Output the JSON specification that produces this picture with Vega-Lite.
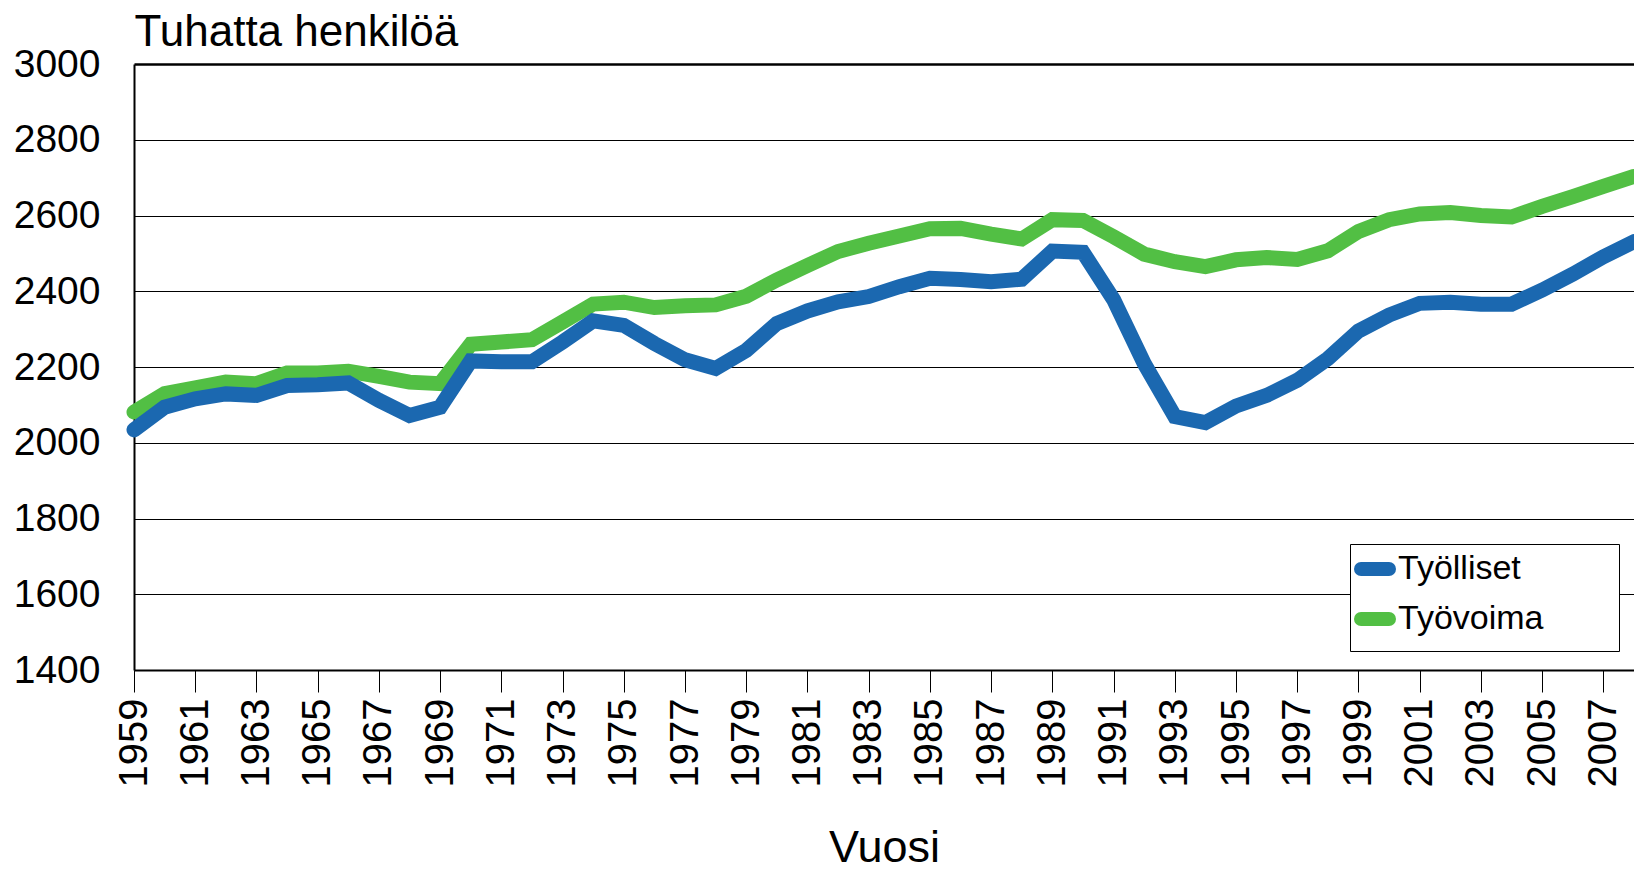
{
  "$schema": "https://vega.github.io/schema/vega-lite/v6.json",
  "autosize": "none",
  "width": 1500,
  "height": 606,
  "padding": {"left": 134, "top": 64, "right": 0, "bottom": 201},
  "background": "white",
  "config": {
    "font": "Liberation Sans",
    "view": {"stroke": null},
    "axis": {"labelColor": "black", "titleColor": "black", "titleFontWeight": "normal", "labelFont": "Liberation Sans", "titleFont": "Liberation Sans"},
    "legend": {"labelFont": "Liberation Sans"}
  },
  "data": {
    "values": [
      {"year": 1959, "series": "Työlliset", "value": 2034},
      {"year": 1960, "series": "Työlliset", "value": 2094},
      {"year": 1961, "series": "Työlliset", "value": 2116},
      {"year": 1962, "series": "Työlliset", "value": 2129},
      {"year": 1963, "series": "Työlliset", "value": 2125},
      {"year": 1964, "series": "Työlliset", "value": 2151},
      {"year": 1965, "series": "Työlliset", "value": 2153},
      {"year": 1966, "series": "Työlliset", "value": 2158},
      {"year": 1967, "series": "Työlliset", "value": 2112},
      {"year": 1968, "series": "Työlliset", "value": 2072},
      {"year": 1969, "series": "Työlliset", "value": 2094},
      {"year": 1970, "series": "Työlliset", "value": 2216},
      {"year": 1971, "series": "Työlliset", "value": 2214},
      {"year": 1972, "series": "Työlliset", "value": 2214},
      {"year": 1973, "series": "Työlliset", "value": 2266},
      {"year": 1974, "series": "Työlliset", "value": 2322},
      {"year": 1975, "series": "Työlliset", "value": 2310},
      {"year": 1976, "series": "Työlliset", "value": 2262},
      {"year": 1977, "series": "Työlliset", "value": 2219},
      {"year": 1978, "series": "Työlliset", "value": 2196},
      {"year": 1979, "series": "Työlliset", "value": 2244},
      {"year": 1980, "series": "Työlliset", "value": 2315},
      {"year": 1981, "series": "Työlliset", "value": 2348},
      {"year": 1982, "series": "Työlliset", "value": 2372},
      {"year": 1983, "series": "Työlliset", "value": 2386},
      {"year": 1984, "series": "Työlliset", "value": 2412},
      {"year": 1985, "series": "Työlliset", "value": 2434},
      {"year": 1986, "series": "Työlliset", "value": 2431},
      {"year": 1987, "series": "Työlliset", "value": 2425},
      {"year": 1988, "series": "Työlliset", "value": 2432},
      {"year": 1989, "series": "Työlliset", "value": 2506},
      {"year": 1990, "series": "Työlliset", "value": 2503},
      {"year": 1991, "series": "Työlliset", "value": 2378},
      {"year": 1992, "series": "Työlliset", "value": 2209},
      {"year": 1993, "series": "Työlliset", "value": 2069},
      {"year": 1994, "series": "Työlliset", "value": 2053},
      {"year": 1995, "series": "Työlliset", "value": 2097},
      {"year": 1996, "series": "Työlliset", "value": 2125},
      {"year": 1997, "series": "Työlliset", "value": 2165},
      {"year": 1998, "series": "Työlliset", "value": 2222},
      {"year": 1999, "series": "Työlliset", "value": 2295},
      {"year": 2000, "series": "Työlliset", "value": 2337},
      {"year": 2001, "series": "Työlliset", "value": 2368},
      {"year": 2002, "series": "Työlliset", "value": 2371},
      {"year": 2003, "series": "Työlliset", "value": 2366},
      {"year": 2004, "series": "Työlliset", "value": 2366},
      {"year": 2005, "series": "Työlliset", "value": 2403},
      {"year": 2006, "series": "Työlliset", "value": 2445},
      {"year": 2007, "series": "Työlliset", "value": 2491},
      {"year": 2008, "series": "Työlliset", "value": 2531},
      {"year": 1959, "series": "Työvoima", "value": 2081},
      {"year": 1960, "series": "Työvoima", "value": 2130},
      {"year": 1961, "series": "Työvoima", "value": 2145},
      {"year": 1962, "series": "Työvoima", "value": 2160},
      {"year": 1963, "series": "Työvoima", "value": 2156},
      {"year": 1964, "series": "Työvoima", "value": 2184},
      {"year": 1965, "series": "Työvoima", "value": 2184},
      {"year": 1966, "series": "Työvoima", "value": 2189},
      {"year": 1967, "series": "Työvoima", "value": 2175},
      {"year": 1968, "series": "Työvoima", "value": 2160},
      {"year": 1969, "series": "Työvoima", "value": 2156},
      {"year": 1970, "series": "Työvoima", "value": 2260},
      {"year": 1971, "series": "Työvoima", "value": 2266},
      {"year": 1972, "series": "Työvoima", "value": 2272},
      {"year": 1973, "series": "Työvoima", "value": 2319},
      {"year": 1974, "series": "Työvoima", "value": 2366},
      {"year": 1975, "series": "Työvoima", "value": 2371},
      {"year": 1976, "series": "Työvoima", "value": 2357},
      {"year": 1977, "series": "Työvoima", "value": 2362},
      {"year": 1978, "series": "Työvoima", "value": 2364},
      {"year": 1979, "series": "Työvoima", "value": 2387},
      {"year": 1980, "series": "Työvoima", "value": 2430},
      {"year": 1981, "series": "Työvoima", "value": 2468},
      {"year": 1982, "series": "Työvoima", "value": 2505},
      {"year": 1983, "series": "Työvoima", "value": 2527},
      {"year": 1984, "series": "Työvoima", "value": 2546},
      {"year": 1985, "series": "Työvoima", "value": 2565},
      {"year": 1986, "series": "Työvoima", "value": 2566},
      {"year": 1987, "series": "Työvoima", "value": 2551},
      {"year": 1988, "series": "Työvoima", "value": 2538},
      {"year": 1989, "series": "Työvoima", "value": 2589},
      {"year": 1990, "series": "Työvoima", "value": 2587},
      {"year": 1991, "series": "Työvoima", "value": 2544},
      {"year": 1992, "series": "Työvoima", "value": 2498},
      {"year": 1993, "series": "Työvoima", "value": 2478},
      {"year": 1994, "series": "Työvoima", "value": 2465},
      {"year": 1995, "series": "Työvoima", "value": 2483},
      {"year": 1996, "series": "Työvoima", "value": 2489},
      {"year": 1997, "series": "Työvoima", "value": 2484},
      {"year": 1998, "series": "Työvoima", "value": 2507},
      {"year": 1999, "series": "Työvoima", "value": 2558},
      {"year": 2000, "series": "Työvoima", "value": 2589},
      {"year": 2001, "series": "Työvoima", "value": 2604},
      {"year": 2002, "series": "Työvoima", "value": 2608},
      {"year": 2003, "series": "Työvoima", "value": 2600},
      {"year": 2004, "series": "Työvoima", "value": 2596},
      {"year": 2005, "series": "Työvoima", "value": 2624},
      {"year": 2006, "series": "Työvoima", "value": 2650},
      {"year": 2007, "series": "Työvoima", "value": 2677},
      {"year": 2008, "series": "Työvoima", "value": 2703}
    ]
  },
  "encoding": {
    "x": {
      "field": "year",
      "type": "quantitative",
      "scale": {"domain": [1959, 2008], "nice": false, "zero": false},
      "axis": {
        "title": "Vuosi",
        "titleFontSize": 45,
        "titleBaseline": "alphabetic",
        "titleY": 191,
        "values": [1959, 1961, 1963, 1965, 1967, 1969, 1971, 1973, 1975, 1977, 1979, 1981, 1983, 1985, 1987, 1989, 1991, 1993, 1995, 1997, 1999, 2001, 2003, 2005, 2007],
        "format": "d",
        "labelAngle": -90,
        "labelFontSize": 40,
        "labelPadding": 6,
        "labelOverlap": false,
        "labelFlush": false,
        "tickSize": 22,
        "tickColor": "black",
        "tickWidth": 1,
        "domainColor": "black",
        "domainWidth": 2,
        "grid": false
      }
    },
    "y": {
      "field": "value",
      "type": "quantitative",
      "scale": {"domain": [1400, 3000], "nice": false, "zero": false},
      "axis": {
        "title": "Tuhatta henkilöä",
        "titleAngle": 0,
        "titleAlign": "left",
        "titleBaseline": "alphabetic",
        "titleX": 0,
        "titleY": -19,
        "titleFontSize": 44,
        "values": [1400, 1600, 1800, 2000, 2200, 2400, 2600, 2800, 3000],
        "format": "d",
        "labelFontSize": 39,
        "labelPadding": 34,
        "tickSize": 0,
        "domainColor": "black",
        "domainWidth": 2,
        "grid": true,
        "gridColor": "black",
        "gridOpacity": 1,
        "gridWidth": {"condition": {"test": "datum.value === 3000", "value": 2.5}, "value": 1}
      }
    },
    "color": {
      "field": "series",
      "type": "nominal",
      "scale": {"domain": ["Työlliset", "Työvoima"], "range": ["#1B68B0", "#52BF44"]},
      "legend": {
        "title": null,
        "orient": "none",
        "legendX": 1216,
        "legendY": 480,
        "strokeColor": "black",
        "fillColor": "white",
        "padding": 4,
        "labelFontSize": 34,
        "labelColor": "black",
        "labelOffset": 2,
        "labelLimit": 1000,
        "rowPadding": -6,
        "symbolType": "M-1,0L1,0M15.1,0",
        "symbolSize": 784,
        "symbolStrokeWidth": 14,
        "encoding": {
          "symbols": {"strokeCap": {"value": "round"}}
        }
      }
    }
  },
  "layer": [
    {
      "transform": [{"filter": "datum.series === 'Työvoima'"}],
      "mark": {"type": "line", "strokeWidth": 15, "strokeCap": "round", "strokeJoin": "miter"}
    },
    {
      "transform": [{"filter": "datum.series === 'Työlliset'"}],
      "mark": {"type": "line", "strokeWidth": 15, "strokeCap": "round", "strokeJoin": "miter"}
    }
  ]
}
